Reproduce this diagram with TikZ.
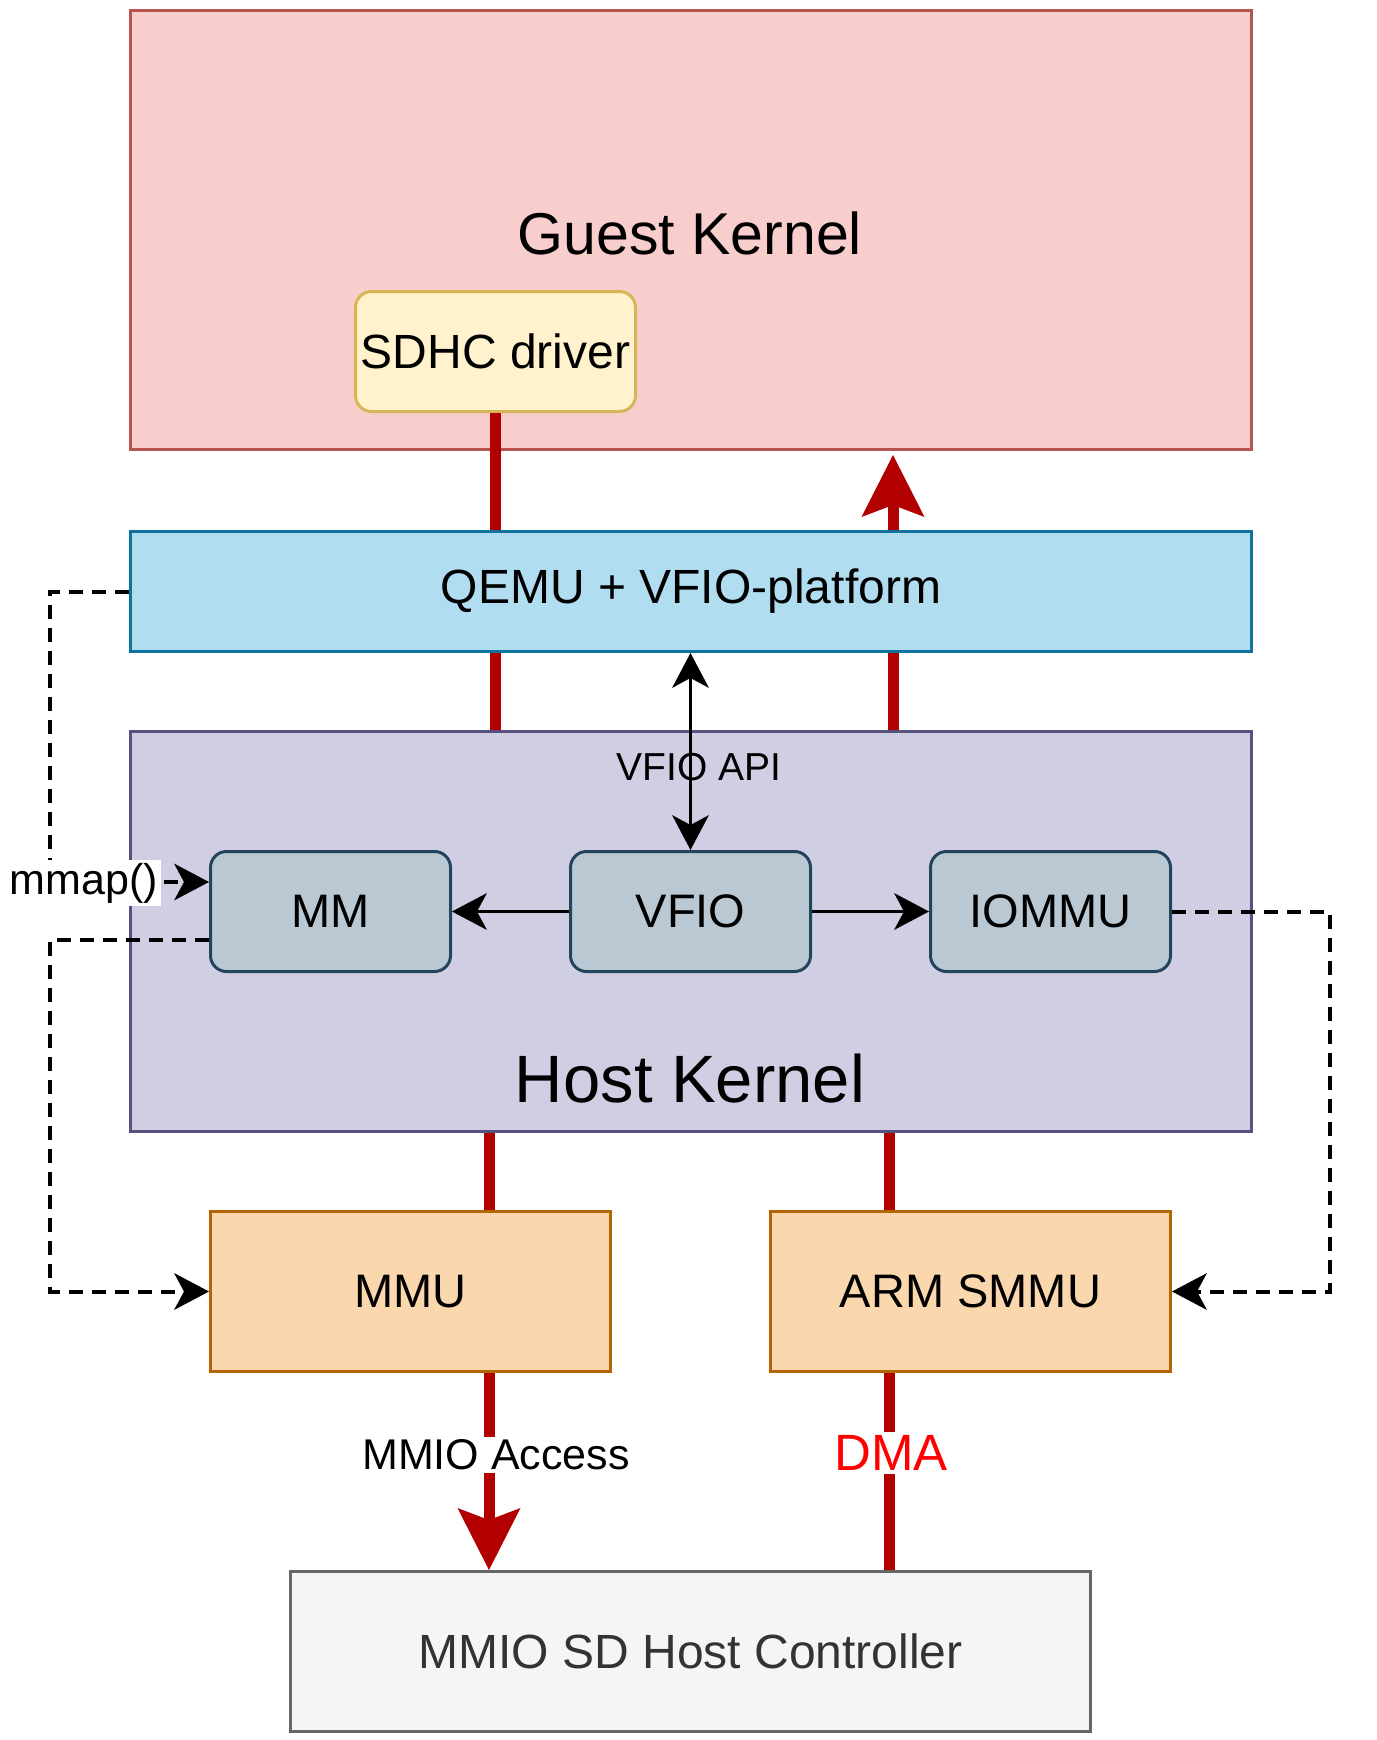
\documentclass[tikz,border=0pt]{standalone}
\usepackage{fontspec}
\setmainfont{Liberation Sans}
\usetikzlibrary{arrows.meta}
\definecolor{gkfill}{HTML}{F8CECC}\definecolor{gkdraw}{HTML}{B85450}
\definecolor{sdfill}{HTML}{FFF2CC}\definecolor{sddraw}{HTML}{D6B656}
\definecolor{qmfill}{HTML}{B1DDF0}\definecolor{qmdraw}{HTML}{10739E}
\definecolor{hkfill}{HTML}{D0CEE2}\definecolor{hkdraw}{HTML}{56517E}
\definecolor{smfill}{HTML}{BAC8D3}\definecolor{smdraw}{HTML}{23445D}
\definecolor{mufill}{HTML}{FAD7AC}\definecolor{mudraw}{HTML}{B46504}
\definecolor{mcfill}{HTML}{F5F5F5}\definecolor{mcdraw}{HTML}{666666}
\definecolor{mctext}{HTML}{333333}
\definecolor{redc}{HTML}{B20000}
\definecolor{dmared}{HTML}{FF0000}
\newcommand\myfs[1]{\fontsize{#1}{#1}\selectfont}
\pgfdeclarelayer{bgl}\pgfdeclarelayer{linel}
\pgfsetlayers{bgl,linel,main}
\begin{document}
\begin{tikzpicture}[x=0.5pt,y=-0.5pt,
  box/.style={draw, line width=1.5pt, inner sep=0pt, anchor=north west, font=\myfs{24pt}},
  rbox/.style={box, rounded corners=8pt},
  redl/.style={draw=redc, line width=5.5pt},
  redtip/.style={-{Stealth[length=31pt,width=31.5pt,inset=6pt,line width=0pt]}},
  blk/.style={draw=black, line width=1.6pt},
  blktip/.style={-{Stealth[length=17.5pt,width=18.5pt,inset=5pt,line width=0pt]}},
  blktips/.style={{Stealth[length=17.5pt,width=18.5pt,inset=5pt,line width=0pt]}-{Stealth[length=17.5pt,width=18.5pt,inset=5pt,line width=0pt]}},
  dashl/.style={draw=black, line width=2pt, dash pattern=on 7pt off 4.5pt},
  lab/.style={fill=white, inner sep=1.5pt, font=\myfs{21.5pt}}
]
\useasboundingbox (0,0) rectangle (1376,1740);

\begin{pgfonlayer}{bgl}
\node[box, fill=gkfill, draw=gkdraw, minimum width=560.5pt, minimum height=219.5pt] (guest) at (129,9) {};
\node[font=\myfs{29.5pt}] (guestt) at (690,233) {Guest Kernel};
\node[rbox, fill=sdfill, draw=sddraw, minimum width=140pt, minimum height=60pt] (sdhc) at (354,290) {};
\node (sdhct) at (sdhc.center) [font=\myfs{24pt}] {SDHC driver};
\end{pgfonlayer}

\node[box, fill=qmfill, draw=qmdraw, minimum width=560.5pt, minimum height=60pt] (qemu) at (129,530) {};
\node (qemut) at (qemu.center) [font=\myfs{24pt}] {QEMU + VFIO-platform};

\node[box, fill=hkfill, draw=hkdraw, minimum width=560.5pt, minimum height=200pt] (host) at (129,730) {};
\node[font=\myfs{33.5pt}] (hostt) at (690,1079) {Host Kernel};

\node[rbox, fill=smfill, draw=smdraw, minimum width=120pt, minimum height=60pt] (mm) at (209,850) {};
\node (mmt) at (mm.center) [font=\myfs{23.5pt}] {MM};
\node[rbox, fill=smfill, draw=smdraw, minimum width=120pt, minimum height=60pt] (vfio) at (569,850) {};
\node (vfiot) at (vfio.center) [font=\myfs{23.5pt}] {VFIO};
\node[rbox, fill=smfill, draw=smdraw, minimum width=120pt, minimum height=60pt] (iommu) at (929,850) {};
\node (iommut) at (iommu.center) [font=\myfs{23.5pt}] {IOMMU};

\node[box, fill=mufill, draw=mudraw, minimum width=200pt, minimum height=80pt] (mmu) at (209,1210) {};
\node (mmut) at (mmu.center) [font=\myfs{23.5pt}] {MMU};
\node[box, fill=mufill, draw=mudraw, minimum width=200pt, minimum height=80pt] (smmu) at (769,1210) {};
\node (smmut) at (smmu.center) [font=\myfs{23.5pt}] {ARM SMMU};

\node[box, fill=mcfill, draw=mcdraw, minimum width=400pt, minimum height=80pt] (mmio) at (289,1570) {};
\node (mmiot) at (mmio.center) [font=\myfs{24pt}, text=mctext] {MMIO SD Host Controller};

% red connectors
\coordinate (rtip) at (893,455);
\coordinate (lx) at (489,0);
\coordinate (rx) at (889,0);
\begin{pgfonlayer}{linel}
\draw[redl] (sdhc.south) -- (sdhc.south |- host.north);
\draw[redl, redtip] (rtip |- host.north) -- (rtip);
\end{pgfonlayer}
\draw[redl] (lx |- host.south) -- (lx |- mmu.north);
\draw[redl, redtip] (lx |- mmu.south) -- (lx |- mmio.north);
\draw[redl] (rx |- host.south) -- (rx |- smmu.north);
\draw[redl] (rx |- smmu.south) -- (rx |- mmio.north);
\node[lab] (mmiolab) at (496,1455) {MMIO Access};
\node[lab, font=\myfs{25.5pt}, text=dmared] (dmalab) at (891,1453) {DMA};

% black connectors
\draw[blk, blktip] (vfio.west) -- (mm.east);
\draw[blk, blktip] (vfio.east) -- (iommu.west);
\draw[blk, blktips] (vfio.north |- qemu.south) -- (vfio.north);
\node[font=\myfs{19.5pt}] (apilab) at (699,767) {VFIO API};

% dashed connectors
\coordinate (dl1) at (50,882);
\coordinate (dl2) at (50,940);
\coordinate (dr) at (1330,1100);
\draw[dashl, blktip] (qemu.west) -| (dl1) -- (dl1 -| mm.west);
\node[lab] (mmaplab) at (84,883) {mmap()};
\draw[dashl, blktip] (dl2 -| mm.west) -- (dl2) |- (mmu.west);
\draw[dashl, blktip] (iommu.east) -| (dr) |- (smmu.east);
\end{tikzpicture}
\end{document}
